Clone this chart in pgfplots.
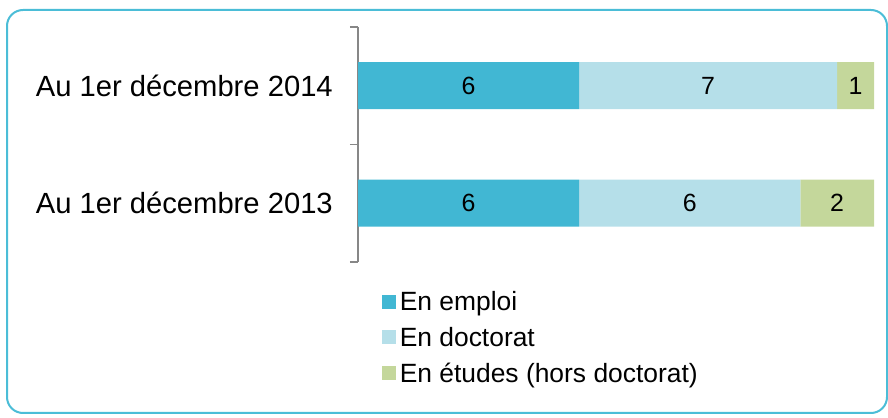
\documentclass[border=0pt]{standalone}
\usepackage{fontspec}
\setmainfont{Liberation Sans}
\usepackage{pgfplots}
\pgfplotsset{compat=1.18}
\definecolor{cEmp}{HTML}{41B7D3}
\definecolor{cDoc}{HTML}{B5DFE9}
\definecolor{cEtu}{HTML}{C4D79B}
\definecolor{cBord}{HTML}{4BBDD7}
\definecolor{axisgray}{HTML}{878787}
\begin{document}
\begin{tikzpicture}
\useasboundingbox (0,0) rectangle (888bp,418bp);
\draw[cBord, line width=2bp, rounded corners=16bp] (7bp,5bp) rectangle (887bp,408bp);
\begin{axis}[
  at={(358bp,156bp)}, anchor=south west,
  width=516bp, height=235bp, scale only axis,
  xbar stacked, bar width=47bp,
  xmin=0, xmax=14, ymin=-0.5, ymax=1.5,
  axis x line=none, axis y line*=left,
  y axis line style={draw=axisgray, line width=1.5bp},
  ytick={0,1}, yticklabels={Au 1er décembre 2013, Au 1er décembre 2014},
  major tick length=0pt,
  minor ytick={-0.5,0.5,1.5}, minor tick length=8bp, tick align=outside,
  minor tick style={draw=axisgray, line width=1.5bp},
  yticklabel style={font=\fontsize{29.3}{34}\selectfont, inner sep=0pt, xshift=-25bp},
  legend style={draw=none, fill=none, anchor=north west,
    at={(axis description cs:0.0400,-0.112)},
    font=\fontsize{26.5}{31}\selectfont, row sep=13bp, column sep=3bp,
    nodes={inner sep=1bp}},
  legend cell align=left,
  legend image code/.code={\fill[#1] (0bp,-7bp) rectangle (14bp,7bp);},
]
\addplot[fill=cEmp, draw=none] coordinates {(6,0) (6,1)};
\addlegendentry{En emploi}
\addplot[fill=cDoc, draw=none] coordinates {(6,0) (7,1)};
\addlegendentry{En doctorat}
\addplot[fill=cEtu, draw=none] coordinates {(2,0) (1,1)};
\addlegendentry{En études (hors doctorat)}
\end{axis}
\begin{axis}[
  at={(358bp,156bp)}, anchor=south west,
  width=516bp, height=235bp, scale only axis,
  xmin=0, xmax=14, ymin=-0.5, ymax=1.5,
  hide axis,
  nodes near coords, point meta=explicit symbolic,
  every node near coord/.style={anchor=center, font=\fontsize{25}{30}\selectfont, text=black},
]
\addplot[draw=none, mark=none] coordinates {(3,1) [6] (9.5,1) [7] (13.5,1) [1] (3,0) [6] (9,0) [6] (13,0) [2]};
\end{axis}
\end{tikzpicture}
\end{document}
